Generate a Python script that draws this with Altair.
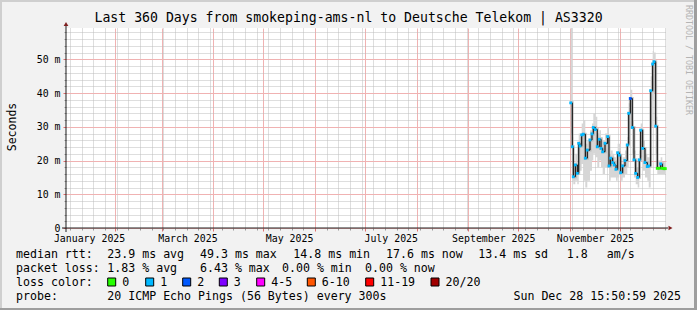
import altair as alt
import pandas as pd

FONT = "DejaVu Sans Mono"

title_text = "Last 360 Days from smokeping-ams-nl to Deutsche Telekom | AS3320"
y_title = "Seconds"
watermark = "RRDTOOL / TOBI OETIKER"

# samples (time, median rtt in ms, smoke range in ms, loss bucket)
times = ["2025-11-01T11:30", "2025-11-02T10:30", "2025-11-03T01:00", "2025-11-04T06:00", "2025-11-05T10:30",
         "2025-11-06T07:00", "2025-11-07T01:30", "2025-11-08T02:00", "2025-11-09T01:00", "2025-11-10T06:00",
         "2025-11-11T10:30", "2025-11-13T01:30", "2025-11-14T06:00", "2025-11-15T01:00", "2025-11-16T06:00",
         "2025-11-17T10:30", "2025-11-18T15:00", "2025-11-19T16:00", "2025-11-20T16:00", "2025-11-22T01:30",
         "2025-11-23T16:00", "2025-11-24T11:00", "2025-11-25T11:30", "2025-11-26T16:00", "2025-11-27T15:00",
         "2025-11-28T16:00", "2025-11-29T16:00", "2025-11-30T15:00", "2025-12-01T11:30", "2025-12-02T16:00",
         "2025-12-04T01:30", "2025-12-05T10:30", "2025-12-06T07:00", "2025-12-07T06:00", "2025-12-08T10:30",
         "2025-12-09T11:00", "2025-12-10T11:30", "2025-12-11T16:00", "2025-12-12T15:00", "2025-12-13T11:30",
         "2025-12-14T16:00", "2025-12-16T01:30", "2025-12-17T10:30", "2025-12-18T07:00", "2025-12-19T11:30",
         "2025-12-20T16:00", "2025-12-21T11:00", "2025-12-22T11:30", "2025-12-23T10:30", "2025-12-24T15:00",
         "2025-12-25T11:30", "2025-12-26T10:30", "2025-12-27T11:00", "2025-12-28T06:00"]
median_ms = [37.1, 24.1, 15.2, 18.7, 16.2, 25.1, 24.3, 27.6, 27.8, 20.7,
             23.1, 26.1, 27.9, 29.8, 29.2, 24.1, 26.3, 23.6, 22.6, 25.1,
             27.1, 18.4, 20.7, 19.4, 18.7, 17.4, 22.3, 21.6, 16.4, 18.4,
             20.0, 24.6, 34.0, 38.4, 29.8, 20.2, 16.2, 15.0, 20.2, 29.0,
             23.6, 19.4, 18.2, 18.4, 40.7, 48.6, 49.3, 30.2, 17.7, 17.7,
             19.0, 17.7, 17.6, 17.6]
smoke_lo_ms = [28, 14, 13, 14, 13, 17, 17, 19, 14, 12,
               14, 17, 20, 22, 21, 18, 20, 18, 16, 18,
               18, 14, 15, 15, 15, 14, 15, 16, 14, 15,
               16, 18, 25, 30, 22, 15, 13, 12, 15, 21,
               17, 15, 14, 12, 30, 38, 40, 22, 16, 16,
               16, 16, 16, 16]
smoke_hi_ms = [59.3, 27, 19, 22, 19, 28, 27, 31, 32, 25,
               26, 29, 31, 34, 33, 28, 29, 27, 26, 28,
               30, 22, 23, 22, 21, 20, 25, 25, 19, 21,
               23, 27, 37, 41, 32, 23, 18, 18, 23, 31,
               26, 22, 21, 21, 45, 52.5, 52, 33, 20, 20,
               21, 19.5, 19.5, 19.5]
loss_bucket = ["1", "1", "1", "1", "1", "1", "1", "1", "1", "1",
               "1", "1", "1", "1", "1", "1", "1", "1", "1", "1",
               "1", "1", "1", "1", "1", "1", "1", "1", "1", "1",
               "1", "1", "1", "2", "1", "1", "1", "1", "1", "1",
               "1", "1", "1", "1", "1", "1", "1", "1", "0", "0",
               "1", "0", "0", "0"]

loss_labels = ["0", "1", "2", "3", "4-5", "6-10", "11-19", "20/20"]
loss_colors = ["#26ff00", "#00b8ff", "#0059ff", "#7e00ff", "#ff00ff", "#ff5500", "#ff0000", "#a10000"]

# legend statistics text
rtt_parts = ["median rtt:", "23.9 ms avg", "49.3 ms max", "14.8 ms min", "17.6 ms now", "13.4 ms sd", "1.8", "am/s"]
loss_parts = ["packet loss:", "1.83 % avg", "6.43 % max", "0.00 % min", "0.00 % now"]
loss_color_title = "loss color:"
probe_parts = ["probe:", "20 ICMP Echo Pings (56 Bytes) every 300s"]
timestamp = "Sun Dec 28 15:50:59 2025"

x_label_dates = [(1, 16, 12), (3, 16, 12), (5, 16, 12), (7, 16, 12), (9, 16, 0), (11, 16, 0)]
y_label_values = [0, 10, 20, 30, 40, 50]
y_minor_values = [v for v in range(2, 60, 2) if v % 10 != 0]
y_max = 59.3

df = pd.DataFrame({"t": times, "med": median_ms, "lo": smoke_lo_ms, "hi": smoke_hi_ms, "loss": loss_bucket})

# ---------- layout (plot origin at canvas 66,28; 600x200) ----------
OX, OY = 66, 28
PW, PH = 600, 200
W, H = 697, 310

xscale = alt.Scale(domain=[alt.DateTime(year=2025, month=1, date=2, hours=15, minutes=50, seconds=59),
                           alt.DateTime(year=2025, month=12, date=28, hours=15, minutes=50, seconds=59)])
yscale = alt.Scale(domain=[0, y_max], nice=False, zero=True)

GRID = "#bdbdbd"
MGRID = "#f0b2b2"

minor_x = alt.Axis(orient="bottom", grid=True, gridColor=GRID, gridDash=[1, 1], gridWidth=1,
                   labels=False, domain=False, ticks=True, tickSize=2, tickColor="#9a9a9a",
                   tickCount={"interval": "week", "step": 1}, title=None)
major_x = alt.Axis(orient="bottom", grid=True, gridColor=MGRID, gridOpacity=1, gridWidth=1,
                   labels=False, domain=False, ticks=True, tickSize=3, tickColor="#e07070",
                   tickCount={"interval": "month", "step": 1}, title=None)
label_x = alt.Axis(orient="bottom", grid=False, domain=False, ticks=False, tickSize=0,
                   values=[alt.DateTime(year=2025, month=m, date=d, hours=h) for (m, d, h) in x_label_dates],
                   format="%B %Y", labelFont=FONT, labelFontSize=9.9, labelColor="#000000",
                   labelPadding=5, labelFlush=False, labelOverlap=False, title=None)

minor_y = alt.Axis(orient="left", grid=True, gridColor=GRID, gridDash=[1, 1], gridWidth=1,
                   labels=False, domain=False, ticks=True, tickSize=2, tickColor="#9a9a9a",
                   values=y_minor_values, title=None)
major_y = alt.Axis(orient="left", grid=True, gridColor=MGRID, gridOpacity=1, gridWidth=1,
                   labels=False, domain=False, ticks=True, tickSize=3, tickColor="#e07070",
                   values=y_label_values, title=None)
label_y = alt.Axis(orient="left", grid=False, domain=False, ticks=False, tickSize=0,
                   values=y_label_values,
                   labelExpr="datum.value == 0 ? '0\u00a0\u00a0' : datum.value + '\u00a0m'",
                   labelFont=FONT, labelFontSize=9.9, labelColor="#000000", labelPadding=6,
                   labelBaseline="middle", title=None)

base = alt.Chart(df)

smoke = base.mark_area(color="#d6d6d6", interpolate="step-after", clip=True).encode(
    x=alt.X("t:T", scale=xscale, axis=minor_x),
    y=alt.Y("lo:Q", scale=yscale, axis=minor_y),
    y2="hi:Q",
)
halo = base.mark_line(color="#a0a0a0", strokeWidth=3, opacity=0.55, interpolate="step-after", clip=True).encode(
    x=alt.X("t:T", scale=xscale, axis=major_x),
    y=alt.Y("med:Q", scale=yscale, axis=major_y),
)
median_line = base.mark_line(color="#000000", strokeWidth=1, interpolate="step-after", clip=True).encode(
    x=alt.X("t:T", scale=xscale, axis=label_x),
    y=alt.Y("med:Q", scale=yscale, axis=label_y),
)
loss_points = base.mark_square(size=8, opacity=1).encode(
    x=alt.X("t:T", scale=xscale, axis=None),
    y=alt.Y("med:Q", scale=yscale, axis=None),
    color=alt.Color("loss:N", scale=alt.Scale(domain=loss_labels, range=loss_colors), legend=None),
)

one = pd.DataFrame({"a": [0]})


def txt(s, x, y, size=11.6, align="left", baseline="alphabetic", angle=0, color="#000000"):
    return alt.Chart(pd.DataFrame({"s": [s]})).mark_text(
        font=FONT, fontSize=size, align=align, baseline=baseline, angle=angle, color=color
    ).encode(text="s:N", x=alt.value(x - OX), y=alt.value(y - OY))


def rect(x1, y1, x2, y2, fill, stroke=None):
    kw = dict(fill=fill)
    if stroke:
        kw.update(stroke=stroke, strokeWidth=1)
    return alt.Chart(one).mark_rect(**kw).encode(
        x=alt.value(x1 - OX), x2=alt.value(x2 - OX), y=alt.value(y1 - OY), y2=alt.value(y2 - OY))


layers = [smoke, halo, median_line, loss_points]

# frame shading
layers += [rect(0, 0, W, 2, "#cfcfcf"), rect(0, 0, 2, H, "#cfcfcf"),
           rect(W - 3, 0, W, H, "#9e9e9e"), rect(0, H - 2, W, H, "#9e9e9e")]

# axis lines and arrows
layers.append(alt.Chart(one).mark_rule(color="#1f1f1f", strokeWidth=1).encode(
    x=alt.value(-4), x2=alt.value(PW + 2), y=alt.value(PH)))
layers.append(alt.Chart(one).mark_rule(color="#1f1f1f", strokeWidth=1).encode(
    x=alt.value(0), y=alt.value(-4), y2=alt.value(PH + 4)))
layers.append(alt.Chart(one).mark_point(shape="triangle-right", filled=True, color="#7f1f1f", size=22, opacity=1).encode(
    x=alt.value(PW + 4.5), y=alt.value(PH)))
layers.append(alt.Chart(one).mark_point(shape="triangle-up", filled=True, color="#7f1f1f", size=22, opacity=1).encode(
    x=alt.value(0), y=alt.value(-4)))

# texts
layers.append(txt(title_text, W / 2, 22, size=13.2, align="center"))
layers.append(txt(y_title, 13, 127, size=11.5, align="center", baseline="middle", angle=270))
layers.append(txt(watermark, 688, 5, size=8.3, align="left", baseline="middle", angle=90, color="#b4b4b4"))

rtt_x = [16, 107.3, 200, 293.3, 386, 478.3, 566.7, 606.7]
for s, x in zip(rtt_parts, rtt_x):
    layers.append(txt(s, x, 258.3))
loss_x = [16, 107.3, 200, 282, 365]
for s, x in zip(loss_parts, loss_x):
    layers.append(txt(s, x, 272.1))
layers.append(txt(loss_color_title, 16, 285.9))
box_x = [107.7, 145.7, 182.7, 219.3, 256.7, 307.3, 365.7, 431]
for lab, col, bx in zip(loss_labels, loss_colors, box_x):
    layers.append(rect(bx, 278, bx + 8, 286, col, stroke="#000000"))
    layers.append(txt(lab, bx + 14.5, 285.9))
layers.append(txt(probe_parts[0], 16, 299.7))
layers.append(txt(probe_parts[1], 107.3, 299.7))
layers.append(txt(timestamp, 681, 299.7, align="right"))

chart = alt.layer(*layers).resolve_axis(x="independent", y="independent").properties(
    width=PW, height=PH,
    padding={"left": OX, "top": OY, "right": W - OX - PW, "bottom": H - OY - PH},
    autosize=alt.AutoSizeParams(type="none"),
).configure(background="#f2f2f2").configure_view(fill="#ffffff", stroke=None)

chart.save("out.html", embed_options={"renderer": "svg", "actions": False})
